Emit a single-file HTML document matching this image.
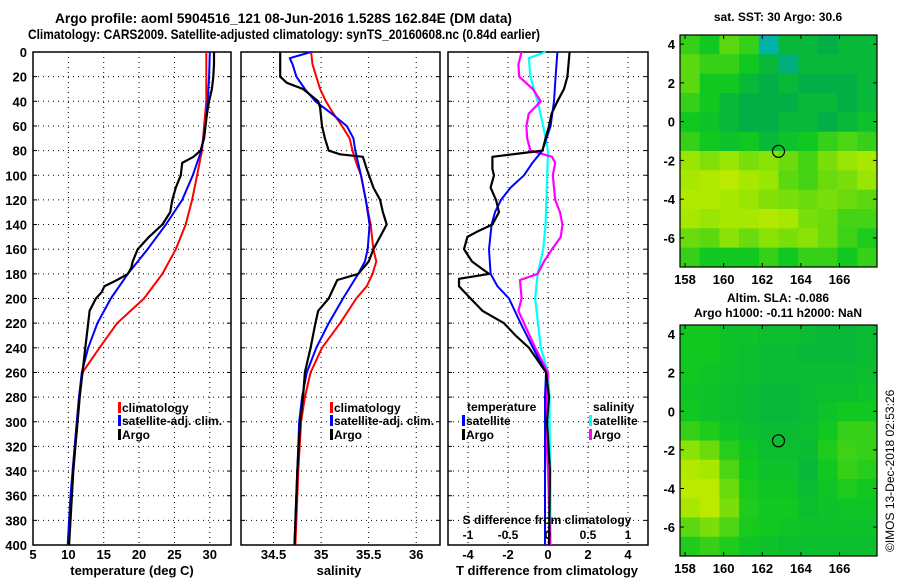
<!DOCTYPE html>
<html><head><meta charset="utf-8"><style>
body{margin:0;background:#fff}
svg{display:block;font-family:"Liberation Sans",sans-serif;font-weight:bold}
</style></head><body>
<svg id="s" width="900" height="580" viewBox="0 0 900 580">
<text x="55" y="23" font-size="14" textLength="457" lengthAdjust="spacingAndGlyphs">Argo profile: aoml 5904516_121 08-Jun-2016 1.528S 162.84E (DM data)</text>
<text x="28" y="39" font-size="14" textLength="512" lengthAdjust="spacingAndGlyphs">Climatology: CARS2009. Satellite-adjusted climatology: synTS_20160608.nc (0.84d earlier)</text>
<text x="778" y="21" font-size="12" text-anchor="middle">sat. SST: 30 Argo: 30.6</text>
<text x="778" y="302" font-size="12" text-anchor="middle">Altim. SLA: -0.086</text>
<text x="778" y="317" font-size="12" text-anchor="middle">Argo h1000: -0.11 h2000: NaN</text>
<text transform="translate(894,552) rotate(-90)" font-size="12" font-weight="normal">©IMOS 13-Dec-2018 02:53:26</text>
</svg>
<script>
// ---- data ----
const depthTicks=[0,20,40,60,80,100,120,140,160,180,200,220,240,260,280,300,320,340,360,380,400];
const tempTicks=[5,10,15,20,25,30];
const salTicks=[34.5,35,35.5,36];
const salTickLabels=["34.5","35","35.5","36"];
const tdTicks=[-4,-2,0,2,4];
const sdTicks=[-1,-0.5,0,0.5,1];
const sdTickLabels=["-1","-0.5","0","0.5","1"];

const tClimD=[0,20,40,60,80,100,120,140,160,180,200,220,240,260,280,300,320,340,360,380,400];
const tClim=[29.5,29.5,29.5,29.2,28.9,28.2,27.5,26.6,25.2,23.3,20.7,16.9,14.4,12.0,11.5,11.2,10.9,10.6,10.4,10.2,10.0];
const tSatD=[0,20,40,60,80,100,120,140,160,180,200,220,240,260,280,300,320,340,360,380,400];
const tSat=[30.0,29.9,29.7,29.4,28.8,27.6,26.1,23.8,21.2,18.4,16.0,14.1,12.8,11.9,11.5,11.2,10.9,10.6,10.3,10.1,9.9];
const tArgoD=[0,10,20,30,40,50,60,70,80,85,90,100,110,120,130,140,150,160,170,175,180,185,190,195,200,210,220,240,260,280,300,320,340,360,380,400];
const tArgo=[30.6,30.6,30.5,30.3,29.9,29.6,29.4,29.2,28.7,27.7,26.1,25.9,25.2,24.7,24.4,23.3,21.4,19.8,19.1,18.9,18.4,16.9,15.1,14.7,13.9,13.0,12.8,12.4,12.0,11.6,11.3,11.0,10.7,10.5,10.3,10.1];

const sClimD=[0,10,20,30,40,50,60,70,80,90,100,120,140,160,170,180,190,200,220,240,260,280,300,340,400];
const sClim=[34.895,34.91,34.95,34.99,35.05,35.13,35.22,35.30,35.33,35.37,35.42,35.47,35.52,35.55,35.58,35.54,35.48,35.37,35.20,35.01,34.89,34.83,34.79,34.76,34.73];
const sSatD=[0,5,10,20,30,40,50,60,70,80,100,120,140,160,170,180,200,220,240,260,280,300,340,400];
const sSat=[34.895,34.67,34.70,34.74,34.83,34.94,35.11,35.27,35.34,35.36,35.42,35.47,35.51,35.49,35.46,35.39,35.23,35.08,34.95,34.85,34.80,34.77,34.75,34.72];
const sArgoD=[0,20,25,30,40,45,60,70,80,83,85,95,110,120,130,140,150,160,170,180,185,200,210,220,240,260,280,300,340,400];
const sArgo=[34.57,34.57,34.64,34.81,34.97,34.99,35.01,35.04,35.08,35.20,35.44,35.48,35.55,35.62,35.65,35.69,35.62,35.55,35.50,35.39,35.17,35.08,34.97,34.94,34.89,34.83,34.81,34.78,34.75,34.72];

const dTArgoD=[0,20,30,40,50,60,70,80,85,95,100,110,120,130,140,145,150,160,170,180,184,190,200,210,220,230,240,260,280,300,340,400];
const dTArgo=[1.08,0.97,0.8,0.47,0.18,0.05,-0.12,-0.28,-2.78,-2.78,-2.7,-2.87,-2.6,-2.45,-2.78,-3.45,-4.03,-4.2,-3.8,-2.95,-4.45,-4.45,-3.87,-3.28,-2.2,-1.62,-0.95,-0.1,0.05,-0.05,0.1,0.05];
const dTSatD=[0,20,40,60,80,90,100,110,120,130,140,160,180,190,200,220,240,260,280,300,340,400];
const dTSat=[0.47,0.38,0.3,0.13,-0.28,-0.78,-1.2,-1.87,-2.35,-2.65,-2.82,-2.95,-2.87,-2.53,-1.95,-1.37,-0.75,-0.1,-0.15,-0.15,-0.15,-0.15];
const dSArgoD=[0,10,20,30,40,50,60,70,80,85,90,100,120,130,140,150,160,170,175,180,185,200,210,220,240,260,280,300,340,400];
const dSArgo=[-0.33,-0.37,-0.36,-0.19,-0.09,-0.24,-0.27,-0.26,-0.22,0.05,0.09,0.06,0.09,0.15,0.18,0.16,0.05,-0.05,-0.09,-0.13,-0.35,-0.33,-0.37,-0.3,-0.16,0,-0.02,-0.03,0.0,0.03];
const dSSatD=[0,5,20,40,60,80,100,140,160,180,200,240,260,280,300,340,400];
const dSSat=[-0.03,-0.24,-0.22,-0.13,-0.06,0.0,-0.01,-0.03,-0.06,-0.13,-0.16,-0.09,0.0,0.02,0.02,0.03,0.03];

const lonTicks=[158,160,162,164,166];
const latTicks=[4,2,0,-2,-4,-6];
const sstGrid=[
[.55,.5,.6,.55,.3,.45,.45,.42,.45,.45],
[.6,.55,.55,.5,.45,.35,.45,.45,.45,.45],
[.6,.5,.5,.45,.42,.45,.42,.42,.42,.45],
[.55,.5,.45,.42,.42,.42,.45,.45,.42,.45],
[.5,.48,.45,.42,.42,.45,.45,.42,.45,.48],
[.55,.5,.48,.5,.45,.48,.5,.55,.58,.55],
[.68,.65,.68,.64,.66,.62,.57,.64,.68,.7],
[.7,.72,.74,.7,.68,.6,.57,.62,.64,.68],
[.72,.72,.7,.68,.65,.64,.62,.64,.62,.6],
[.7,.68,.7,.7,.72,.7,.64,.62,.57,.57],
[.62,.6,.66,.62,.66,.64,.66,.62,.56,.52],
[.55,.5,.5,.5,.55,.5,.55,.55,.5,.55]];
const slaGrid=[
[.5,.5,.48,.48,.47,.47,.46,.45,.45,.46],
[.5,.5,.48,.47,.46,.46,.45,.45,.45,.46],
[.5,.49,.48,.47,.46,.46,.46,.46,.46,.47],
[.49,.48,.47,.46,.45,.45,.46,.47,.47,.48],
[.5,.48,.47,.46,.45,.45,.46,.48,.5,.5],
[.55,.52,.49,.47,.46,.46,.47,.5,.55,.55],
[.66,.62,.53,.49,.47,.47,.46,.52,.56,.55],
[.72,.7,.58,.5,.48,.48,.45,.5,.55,.53],
[.74,.74,.62,.51,.49,.49,.46,.49,.52,.5],
[.7,.74,.64,.52,.5,.5,.47,.48,.49,.49],
[.6,.64,.58,.51,.5,.49,.48,.48,.48,.48],
[.52,.55,.52,.49,.48,.47,.47,.47,.47,.47]];
const argoLon=162.84, argoLat=-1.53;

// ---- drawing ----
const svg=document.getElementById('s');
const NS='http://www.w3.org/2000/svg';
function mk(tag,attrs,parent){const e=document.createElementNS(NS,tag);for(const k in attrs)e.setAttribute(k,attrs[k]);(parent||svg).appendChild(e);return e;}
const Y0=52,Y1=545;
const yD=d=>Y0+(d/400)*(Y1-Y0);
function lin(d0,d1,r0,r1){return v=>r0+(v-d0)/(d1-d0)*(r1-r0);}
const xT=lin(5,33,33,231);
const xS=lin(34.158,36.25,241,440);
const xTD=lin(-5,5,448,648);
const xSD=v=>xTD(v*4);

function panel(name,x0,x1,xt,xs,labels,labelY){
  const g=mk('g',{});
  
  
  depthTicks.forEach(d=>{ if(d>0&&d<400){const l=mk('line',{x1:x0,x2:x1,y1:yD(d),y2:yD(d),stroke:'#000','stroke-width':1,'stroke-dasharray':'1,4'},g);
    }
    mk('line',{x1:x0,x2:x0+4,y1:yD(d),y2:yD(d),stroke:'#000'},g);mk('line',{x1:x1-4,x2:x1,y1:yD(d),y2:yD(d),stroke:'#000'},g);});
  xt.forEach((v,i)=>{const x=xs(v);
    if(x>x0+1&&x<x1-1){const l=mk('line',{x1:x,x2:x,y1:Y0,y2:Y1,stroke:'#000','stroke-width':1,'stroke-dasharray':'1,4'},g);
      }
    if(labels){const t=mk('text',{x:x,y:labelY,'font-size':13,'text-anchor':'middle'},g);t.textContent=labels[i];
      }});
  const r=mk('rect',{x:x0,y:Y0,width:x1-x0,height:Y1-Y0,fill:'none',stroke:'#000','stroke-width':1.5},g);
  
  return g;
}
function series(g,name,ds,vs,xs,color,w){
  const p=ds.map((d,i)=>(i?'L':'M')+xs(vs[i]).toFixed(1)+','+yD(d).toFixed(1)).join('');
  const e=mk('path',{d:p,fill:'none',stroke:color,'stroke-width':w,'stroke-linejoin':'round'},g);
  
}
function txt(g,name,x,y,s,size,anchor){const t=mk('text',{x:x,y:y,'font-size':size||12,'text-anchor':anchor||'start'},g);t.textContent=s;
  return t;}
function legend(g,name,x,y,color,label){
  const b=mk('rect',{x:x,y:y-10,width:3,height:11,fill:color},g);
  
  txt(g,name+'-label',x+4,y,label,12);
}

depthTicks.forEach(d=>{const t=mk('text',{x:27,y:yD(d)+5,'font-size':13,'text-anchor':'end'});t.textContent=d;
  });

const g1=panel('temperature-panel',33,231,tempTicks,xT,tempTicks.map(String),559);
series(g1,'temp-climatology-line',tClimD,tClim,xT,'#f00',2);
series(g1,'temp-satellite-line',tSatD,tSat,xT,'#00f',2);
series(g1,'temp-argo-line',tArgoD,tArgo,xT,'#000',2.2);
legend(g1,'legend-climatology',118,412,'#f00','climatology');
legend(g1,'legend-satellite-adj',118,425,'#00f','satellite-adj. clim.');
legend(g1,'legend-argo',118,439,'#000','Argo');
txt(g1,'x-axis-title-temperature',132,575,'temperature (deg C)',13,'middle');

const g2=panel('salinity-panel',241,440,salTicks,xS,salTickLabels,559);
series(g2,'sal-climatology-line',sClimD,sClim,xS,'#f00',2);
series(g2,'sal-satellite-line',sSatD,sSat,xS,'#00f',2);
series(g2,'sal-argo-line',sArgoD,sArgo,xS,'#000',2.2);
legend(g2,'legend-sal-climatology',330,412,'#f00','climatology');
legend(g2,'legend-sal-satellite-adj',330,425,'#00f','satellite-adj. clim.');
legend(g2,'legend-sal-argo',330,439,'#000','Argo');
txt(g2,'x-axis-title-salinity',339,575,'salinity',13,'middle');

const g3=panel('difference-panel',448,648,tdTicks,xTD,tdTicks.map(String),559);
series(g3,'s-diff-satellite-line',dSSatD,dSSat,xSD,'#0ff',2.2);
series(g3,'s-diff-argo-line',dSArgoD,dSArgo,xSD,'#f0f',2.2);
series(g3,'t-diff-satellite-line',dTSatD,dTSat,xTD,'#00f',2);
series(g3,'t-diff-argo-line',dTArgoD,dTArgo,xTD,'#000',2.2);
txt(g3,'legend-temperature-heading',467,411,'temperature',12);
legend(g3,'legend-t-satellite',462,425,'#00f','satellite');
legend(g3,'legend-t-argo',462,439,'#000','Argo');
txt(g3,'legend-salinity-heading',593,411,'salinity',12);
legend(g3,'legend-s-satellite',589,425,'#0ff','satellite');
legend(g3,'legend-s-argo',589,439,'#f0f','Argo');
txt(g3,'s-axis-title',547,524,'S difference from climatology',12,'middle');
sdTicks.forEach((v,i)=>txt(g3,'s-tick-label',xSD(v),539,sdTickLabels[i],12,'middle'));
txt(g3,'x-axis-title-t-difference',547,575,'T difference from climatology',13,'middle');

function cmap(v){
  const st=[[0,[0,0,192]],[0.2,[0,192,255]],[0.4,[0,168,80]],[0.5,[16,200,32]],[0.7,[168,232,0]],[0.85,[240,240,0]],[1,[255,160,0]]];
  for(let i=1;i<st.length;i++){if(v<=st[i][0]){const a=st[i-1],b=st[i],t=(v-a[0])/(b[0]-a[0]);
    return 'rgb('+a[1].map((c,k)=>Math.round(c+(b[1][k]-c)*t)).join(',')+')';}}
  return 'rgb(255,160,0)';
}
function map(name,grid,top,bot,lonLabelY){
  const g=mk('g',{});
  
  const x0=680,x1=877;
  const xL=lin(157.74,167.94,x0,x1), yL=lin(4.47,-7.5,top,bot);
  const rows=grid.length,cols=grid[0].length,cw=(x1-x0)/cols,ch=(bot-top)/rows;
  grid.forEach((row,r)=>row.forEach((v,c)=>{const e=mk('rect',{x:x0+c*cw,y:top+r*ch,width:cw+0.5,height:ch+0.5,fill:cmap(v)},g);
    }));
  const c=mk('circle',{cx:xL(argoLon),cy:yL(argoLat),r:6,fill:'none',stroke:'#000','stroke-width':1.2},g);
  
  const f=mk('rect',{x:x0,y:top,width:x1-x0,height:bot-top,fill:'none',stroke:'#000','stroke-width':1.2},g);
  
  lonTicks.forEach(v=>{const x=xL(v);mk('line',{x1:x,x2:x,y1:bot,y2:bot-4,stroke:'#000'},g);mk('line',{x1:x,x2:x,y1:top,y2:top+4,stroke:'#000'},g);
    txt(g,'lon-tick-label',x,lonLabelY,String(v),13,'middle');});
  latTicks.forEach(v=>{const y=yL(v);mk('line',{x1:x0,x2:x0+4,y1:y,y2:y,stroke:'#000'},g);mk('line',{x1:x1,x2:x1-4,y1:y,y2:y,stroke:'#000'},g);
    txt(g,'lat-tick-label',675,y+5,String(v),13,'end');});
}
map('sst-map',sstGrid,35,267,284);
map('sla-map',slaGrid,325,556,573);
</script>
</body></html>
